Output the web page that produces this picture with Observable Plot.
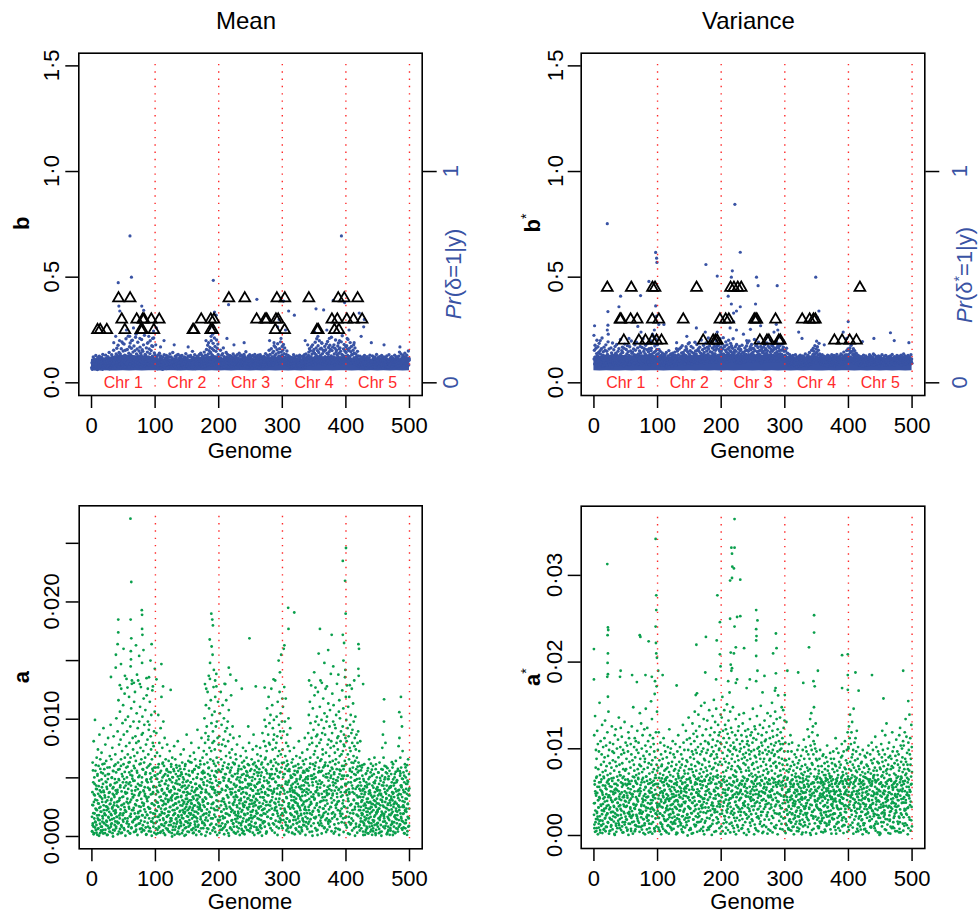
<!DOCTYPE html>
<html><head><meta charset="utf-8">
<script src="https://cdn.jsdelivr.net/npm/d3@7"></script>
<script src="https://cdn.jsdelivr.net/npm/@observablehq/plot@0.6"></script>
<style>
body{margin:0;background:#fff}
#root{position:relative;width:978px;height:915px;overflow:hidden;font-family:"Liberation Sans",Arial,Helvetica,sans-serif}
</style>
</head><body><div id="root"></div>
<script>
// ---------------- DATA ----------------
const xTicks = [0, 100, 200, 300, 400, 500];
const chrNames = ["Chr 1", "Chr 2", "Chr 3", "Chr 4", "Chr 5"];
const chrMid = [50, 150, 250, 350, 450];
const chrBounds = [100, 200, 300, 400, 500];

// dense core of the b / b* clouds: edges read every 10 genome units (0..500)
const coreX = [0,10,20,30,40,50,60,70,80,90,100,110,120,130,140,150,160,170,180,190,200,210,220,230,240,250,260,270,280,290,300,310,320,330,340,350,360,370,380,390,400,410,420,430,440,450,460,470,480,490,500];
const tlCoreTop = [0.112,0.114,0.118,0.122,0.128,0.130,0.130,0.128,0.126,0.124,0.118,0.112,0.110,0.110,0.110,0.110,0.112,0.116,0.122,0.126,0.118,0.115,0.112,0.110,0.110,0.110,0.112,0.115,0.118,0.122,0.118,0.112,0.110,0.112,0.115,0.120,0.122,0.124,0.124,0.122,0.120,0.115,0.112,0.110,0.110,0.110,0.110,0.110,0.112,0.112,0.112];
const trCoreTop = [0.125,0.126,0.128,0.128,0.130,0.128,0.128,0.130,0.132,0.130,0.125,0.122,0.120,0.122,0.124,0.126,0.128,0.130,0.130,0.132,0.134,0.134,0.132,0.130,0.130,0.132,0.130,0.130,0.132,0.130,0.124,0.120,0.118,0.118,0.122,0.124,0.120,0.118,0.118,0.120,0.122,0.120,0.118,0.118,0.118,0.118,0.118,0.118,0.118,0.118,0.118];
const coreBottom = [0.057,0.056,0.057,0.056,0.056,0.057,0.056,0.057,0.056,0.057,0.057,0.056,0.057,0.057,0.056,0.057,0.056,0.057,0.056,0.057,0.056,0.057,0.056,0.057,0.057,0.056,0.057,0.056,0.057,0.056,0.057,0.056,0.057,0.056,0.057,0.056,0.056,0.057,0.056,0.057,0.057,0.056,0.057,0.056,0.057,0.056,0.057,0.056,0.057,0.056,0.057];

// marker codes per chromosome (markers evenly spaced along each chromosome)
// top-left (mean, b): y = 0.05 + code*0.0018
const tlCodes = [
`12 25 08 31 19 40 14 22 35 10 28 09 17 44 21 13 33 26 07 38 15 30 11 24 42 18 27 09 36 20 23 14 39 29 08 47 16 32 12 26
34 19 10 27 45 22 13 37 18 29 11 41 24 16 30 52 09 25 35 14 20 33 13 46 28 17 39 11 23 58 31 15 27 40 12 36 21 48 19 63
26 44 17 71 33 14 52 29 38 21 48 12 35 62 24 80 19 41 30 56 16 39 74 27 45 13 58 33 88 22 42 25 60 18 37 95 29 50 14 67
34 77 21 46 28 63 11 39 84 25 53 17 40 69 31 22 57 36 92 19 27 48 15 61 35 79 24 43 18 56 38 21 66 30 50 13 44 86 26 59
19 55 33 72 24 41 97 29 47 16 45 28 64 37 12 53 31 78 22 40 30 61 18 49 83 26 38 57 20 70 24 42 68 15 36 90 28 51 33 46`,
`22 36 14 29 41 18 33 09 27 45 16 31 24 50 12 38 20 43 28 11 35 19 27 08 40 23 32 15 46 21 13 29 37 18 25 44 10 34 22 39
28 12 41 26 33 17 48 21 30 14 40 24 15 36 20 52 27 11 35 19 17 33 26 42 13 29 38 22 45 10 31 20 47 16 35 24 12 39 27 43
25 38 11 30 44 19 33 23 14 36 12 27 40 21 34 16 49 28 37 20 36 15 29 43 22 11 32 26 41 18 23 44 18 31 14 38 25 55 20 33
39 13 34 27 46 21 10 37 24 30 18 32 42 15 28 40 23 35 12 47 29 21 36 50 17 33 26 44 19 38 14 41 25 31 53 22 37 16 45 28
33 60 24 43 19 71 30 48 26 57 21 39 65 28 52 35 83 18 46 62 44 27 76 33 58 22 90 41 68 30 36 55 25 85 40 63 31 74 47 29`,
`27 40 15 33 22 58 19 36 11 45 32 18 49 25 64 30 14 41 28 37 20 35 28 52 16 39 24 47 33 12 38 24 13 30 44 21 35 17 42 26
15 33 40 22 29 48 11 36 25 31 43 20 27 35 14 39 30 23 46 18 26 37 19 31 50 24 15 42 28 34 12 45 30 21 36 27 40 18 33 47
35 22 41 16 28 54 25 37 13 30 24 31 14 43 38 19 29 46 22 36 41 17 33 26 12 35 44 21 30 27 19 39 28 47 23 31 16 38 25 42
30 13 36 22 45 27 34 11 40 29 46 25 18 33 29 41 20 37 24 15 21 34 42 27 16 38 31 49 19 35 37 28 15 44 32 23 40 26 58 20
25 47 33 19 36 62 28 41 23 51 33 20 55 38 70 26 44 31 66 24 48 35 27 59 22 75 39 30 52 43 29 62 41 24 80 37 53 28 45 68`,
`42 58 30 73 25 49 36 64 28 40 33 21 47 30 56 24 38 19 44 27 18 36 25 41 14 30 22 39 28 12 29 15 38 23 34 46 17 31 26 40
37 24 11 33 27 43 20 35 16 29 22 40 31 18 45 26 38 14 32 25 30 17 28 42 21 35 12 39 24 46 14 38 23 31 48 19 33 27 41 20
35 26 44 53 30 62 38 22 57 29 41 67 25 48 34 72 19 55 36 60 28 50 39 79 23 46 64 31 88 42 57 33 70 26 52 40 83 29 61 37
45 24 63 38 76 30 49 22 58 34 32 55 27 68 41 20 59 36 74 25 50 38 81 29 47 65 23 54 39 71 26 60 35 43 92 31 57 24 66 40
39 28 72 48 20 63 36 85 30 53 58 34 46 25 69 41 77 28 50 62 31 64 23 55 38 80 27 47 96 35 44 26 61 37 73 29 56 42 33 67`,
`52 36 70 28 61 44 86 33 57 40 29 63 41 78 35 54 24 68 46 31 47 30 58 25 72 38 50 22 64 35 33 48 26 41 20 37 55 29 43 18
24 35 16 30 42 21 33 27 13 38 31 19 28 40 15 26 36 22 44 17 20 37 24 12 33 28 41 18 30 25 35 14 29 38 22 45 16 31 27 11
26 32 19 43 28 13 36 24 39 21 13 40 27 18 34 25 47 20 29 33 38 22 31 26 15 41 23 35 17 28 21 30 44 16 37 24 12 33 26 40
29 17 25 39 31 20 36 14 43 27 34 27 13 30 22 46 28 19 35 23 18 39 33 24 41 15 30 37 21 32 25 31 20 45 27 35 18 40 26 14
40 23 36 29 16 32 42 24 53 30 19 34 27 48 33 21 38 28 15 44 31 26 41 17 36 50 23 33 27 39 23 45 30 35 20 28 56 19 37 32`
];
// top-right (variance, b*): y = 0.05 + code*0.0018
const trCodes = [
`35 58 22 71 40 28 63 17 49 84 26 44 67 31 52 19 76 38 23 57 48 21 39 62 28 90 33 45 16 54 30 66 25 43 19 58 37 72 24 41
55 18 47 33 80 27 40 61 22 36 20 42 29 64 35 51 13 46 77 30 39 26 59 21 44 32 68 25 50 18 47 73 30 38 24 55 41 19 62 34
23 45 36 86 28 49 20 57 31 66 52 29 41 17 63 35 74 26 43 38 33 60 24 48 31 70 22 54 37 19 44 21 67 35 27 56 40 82 29 50
28 53 38 20 61 33 46 24 72 36 58 31 45 79 25 42 19 64 34 48 22 47 30 56 39 68 27 51 20 43 36 65 24 41 88 30 55 37 62 26
49 28 71 33 45 22 59 40 76 31 27 54 38 62 20 47 35 83 29 57 63 35 48 26 78 42 31 94 52 38 40 69 29 55 36 87 46 60 33 72`,
`37 24 49 31 60 22 42 28 55 19 26 44 33 18 51 29 40 23 36 47 41 20 35 46 27 38 15 52 30 24 18 32 43 25 39 57 21 34 45 28
33 48 22 37 16 42 29 50 26 39 45 27 38 21 53 31 44 19 36 62 24 40 56 33 28 46 35 22 61 30 38 29 43 65 24 51 37 70 27 45
52 34 26 47 39 22 58 33 44 67 30 61 41 28 54 36 75 25 49 38 46 23 57 37 42 68 30 53 21 40 35 64 28 50 33 45 26 79 38 56
27 48 39 73 24 58 42 31 62 36 55 32 66 41 28 50 37 85 26 44 40 59 30 47 71 35 52 24 63 38 33 45 77 29 56 40 66 31 48 90
61 37 43 69 26 54 35 81 42 30 28 52 64 38 47 74 33 59 45 68 49 36 58 27 83 41 63 32 70 44 37 72 45 60 31 55 88 39 66 50`,
`56 38 74 45 62 30 91 48 35 67 42 69 33 58 80 40 53 27 72 46 61 35 50 84 39 65 31 57 44 76 38 54 70 29 47 63 36 88 41 52
49 31 58 43 67 25 55 39 73 34 27 46 35 62 30 51 41 68 24 57 44 60 32 48 37 71 28 53 40 35 33 52 45 26 64 39 57 30 47 69
58 36 77 42 31 55 46 82 35 61 40 67 29 59 48 73 37 50 63 32 53 28 62 45 86 34 57 41 70 38 36 71 44 54 30 65 48 79 33 56
47 39 58 33 68 42 25 61 37 52 30 55 41 66 36 49 72 28 58 44 62 34 50 77 40 57 31 69 45 36 43 65 29 53 38 84 47 60 32 71
55 37 68 44 59 30 76 41 63 50 38 62 46 81 35 54 67 29 73 48 64 42 57 33 70 49 92 39 58 45 47 74 36 60 43 66 31 55 78 40`,
`45 30 56 24 41 63 28 37 50 33 26 39 20 34 47 18 31 43 25 36 37 22 41 15 29 44 33 19 38 27 19 35 28 46 23 32 14 40 26 31
33 24 38 21 42 17 35 28 45 22 28 40 16 31 37 25 43 20 34 30 41 19 33 26 48 22 36 29 15 39 24 36 45 18 30 40 27 52 33 21
35 29 22 41 58 26 38 31 47 63 27 55 44 33 70 38 49 25 61 40 52 34 67 29 45 58 36 76 31 48 38 26 43 35 22 39 30 46 27 33
20 37 29 42 25 34 18 40 31 26 34 23 38 16 45 28 36 21 43 30 27 41 32 24 37 19 33 46 26 38 39 22 35 30 44 27 17 36 29 41
25 38 28 47 21 34 40 23 36 31 33 20 43 26 39 30 48 24 32 45 28 36 22 41 35 53 27 38 44 25 40 31 46 29 57 33 42 36 61 30`,
`47 33 58 28 64 40 52 36 71 30 38 55 27 46 34 62 25 49 41 57 31 44 36 23 50 29 40 33 26 45 25 37 20 33 42 27 35 18 39 30
34 22 41 28 16 36 30 45 24 32 21 39 27 35 43 19 31 26 38 28 36 25 18 40 29 34 46 22 30 37 28 42 33 24 37 20 39 31 48 25
19 31 45 27 35 23 32 41 26 36 33 26 38 21 43 30 17 36 29 40 40 29 24 37 31 46 27 35 22 33 24 36 30 42 19 34 28 44 32 27
31 20 39 26 35 23 41 30 37 18 37 43 28 33 25 38 21 47 29 34 22 30 36 19 41 27 33 25 39 31 35 27 44 31 23 37 29 40 26 42
28 39 24 35 30 45 20 33 38 27 41 26 32 48 27 36 31 22 43 30 23 34 38 29 40 25 35 44 28 37 30 40 27 36 21 33 46 29 35 24`
];
// bottom-left (mean, a): spread layer y = code*0.00014, dense low layer y = code*0.000064
const blCodes = [
`12 03 27 45 08 19 33 06 58 21 02 36 14 25 71 09 40 17 04 29 31 07 48 16 22 01 38 11 53 26 05 43 20 13 34 62 10 28 02 47
18 24 06 39 15 51 03 30 23 09 44 11 32 04 66 19 27 08 41 14 25 02 37 56 13 21 07 46 33 16 09 29 18 42 01 35 60 12 24 05
38 15 03 27 49 10 31 20 68 06 22 47 13 08 36 17 54 02 26 40 04 30 61 19 11 43 24 07 35 14 50 16 28 05 39 72 12 33 21 09
27 64 08 45 18 83 35 03 56 22 41 11 76 30 14 59 02 47 90 19 06 38 52 24 69 13 33 80 09 44 62 20 35 04 87 48 16 27 71 31
15 55 42 96 08 36 64 23 11 50 73 29 06 45 18 85 39 57 02 33 21 67 48 12 31 78 05 40 93 26 37 09 60 24 53 16 70 43 10 82
49 34 14 88 28 61 03 46 19 57 07 75 40 22 51 11 66 32 95 15 58 25 12 70 37 44 08 79 27 54 18 91 31 47 05 62 36 13 73 41
63 04 52 28 84 20 45 68 09 30 26 48 77 15 39 56 01 34 86 23 42 13 59 33 70 06 50 24 65 97 11 68 29 82 17 44 35 61 03 53
74 36 20 47 09 89 26 57 40 14 30 55 08 64 42 19 76 12 49 37`,
`16 42 05 30 63 21 09 51 35 12 38 02 27 74 18 44 06 33 57 24 10 49 31 13 66 03 40 22 85 15 28 07 54 36 19 45 11 70 26 02
43 20 14 60 32 08 38 23 47 17 05 34 25 41 12 56 29 04 37 21 31 13 46 03 22 35 15 52 09 27 18 39 07 28 44 11 24 02 33 48
25 04 36 19 13 41 30 08 55 16 01 29 14 47 23 06 38 20 11 34 42 17 26 09 32 58 03 24 40 12 21 35 06 43 15 28 10 37 19 50
08 24 39 13 30 02 45 22 16 33 36 11 20 53 07 27 41 14 31 05 15 44 29 01 38 18 25 62 09 23 27 03 34 21 12 46 06 31 40 17
10 37 18 49 26 08 33 14 22 57 45 20 04 30 16 39 24 02 35 13 23 51 12 27 41 09 19 47 28 06 04 32 43 15 22 36 11 29 65 18
38 14 25 07 54 20 42 03 31 24 17 46 30 12 35 05 27 60 16 39 29 09 48 21 13 40 33 19 52 08 44 72 18 36 57 10 63 27 80 23
14 50 67 31 05 45 88 20 38 59 61 26 42 78 15 54 33 96 07 47 35 83 11 52 69 24 40 74 29 57 20 64 46 30 91 17 58 37 05 76
53 28 85 12 43 67 34 99 22 48 70 39 16 60 27 82 45 09 56 33`,
`26 61 40 12 75 33 04 52 88 19 47 15 68 29 56 08 41 80 23 36 11 59 34 72 21 45 93 06 38 64 55 28 14 49 83 31 17 66 42 09
30 70 24 58 02 44 77 35 13 51 18 39 62 05 48 27 33 86 15 42 37 53 10 29 67 20 45 08 60 24 06 32 21 44 15 38 02 27 50 13
25 47 09 31 19 56 24 11 36 03 40 14 28 05 43 22 34 61 17 30 12 36 49 23 08 41 15 29 04 45 33 02 20 54 27 11 38 18 46 24
19 42 13 35 06 30 52 21 09 37 48 26 04 39 23 14 44 32 67 10 07 31 57 18 36 25 03 40 22 15 29 13 41 09 47 20 34 11 28 53
16 44 24 62 12 38 06 31 45 21 35 08 30 19 43 26 55 14 04 39 22 50 11 37 28 02 46 33 17 26 41 18 33 06 54 24 13 49 37 10
05 39 27 45 16 63 31 20 08 42 30 14 58 36 22 71 09 47 26 55 48 67 19 40 03 52 34 78 15 29 12 44 62 25 85 33 57 07 69 38
56 21 37 74 11 46 28 90 41 17 35 80 24 53 66 08 43 59 27 71 62 29 47 16 38 95 20 54 33 45 18 57 73 40 26 61 14 82 49 31
44 09 36 68 52 23 88 39 11 64 27 75 50 13 60 42 31 70 19 84`,
`53 22 79 36 10 64 45 28 91 17 38 70 15 49 32 84 07 57 24 43 11 46 62 27 40 05 55 33 72 20 34 18 41 09 52 29 66 14 37 25
06 31 22 45 13 36 02 28 47 19 27 10 38 17 54 24 12 40 21 33 15 43 05 30 23 49 35 08 26 14 39 20 32 11 44 03 25 58 18 30
09 35 48 24 16 37 29 13 42 22 31 04 19 51 27 10 46 34 07 40 21 44 28 14 39 60 18 25 33 12 47 16 36 06 29 41 22 53 11 35
26 63 40 18 74 31 09 56 42 82 14 48 69 27 37 92 20 60 35 03 57 33 15 78 44 24 65 08 50 38 41 86 23 52 11 70 36 45 27 61
19 55 73 30 62 04 48 88 16 39 68 25 42 13 57 34 79 21 46 95 32 59 08 47 71 26 40 63 12 53 50 17 84 37 22 66 31 05 75 43
24 62 45 90 15 51 38 70 28 11 73 36 20 56 43 09 81 34 59 26 10 49 67 31 77 40 18 54 99 37 58 28 42 14 63 87 25 46 33 70
35 80 55 22 39 12 68 51 03 44 66 19 47 74 30 57 41 93 24 60 21 53 36 61 08 45 76 29 83 38 49 72 14 40 58 27 64 35 50 17
30 43 89 25 67 52 11 78 41 56 62 37 55 18 46 97 32 60 27 85`,
`44 71 28 58 92 37 15 66 50 23 79 33 61 12 47 85 26 54 40 68 19 52 74 36 08 63 45 90 31 57 65 27 42 81 14 49 70 22 38 55
34 60 18 46 73 29 53 06 41 62 25 48 35 13 57 39 20 64 31 45 40 16 52 29 07 43 33 58 24 11 18 31 05 26 42 13 22 37 09 28
03 24 35 16 08 29 44 12 20 01 27 10 19 38 04 33 15 06 30 21 13 40 02 23 17 09 35 26 11 47 32 06 28 14 21 03 39 18 25 08
20 15 37 01 31 24 10 43 05 16 09 33 22 12 48 07 27 19 34 02 41 18 04 29 14 36 23 08 30 15 06 25 39 11 20 02 32 17 45 10
28 12 19 34 07 26 13 41 03 22 37 54 14 24 62 09 31 48 18 70 11 29 43 05 36 21 57 15 39 26 23 08 31 17 02 28 12 35 20 06
04 35 16 25 10 40 01 22 30 13 30 19 07 38 23 14 33 09 27 42 15 26 44 03 18 31 06 24 12 36 38 02 21 29 11 46 17 05 33 20
08 34 13 40 25 03 28 19 55 10 26 16 60 22 07 37 48 14 31 85 42 11 30 05 67 24 18 52 35 09 19 39 14 27 02 33 21 08 44 16
05 23 36 10 29 15 40 26 01 32 34 12 20 47 06 28 11 38 17 25`
];
const blLow = [
`07 42 15 88 31 03 56 24 70 12 49 19 95 36 05 63 28 81 10 44 22 67 01 38 54 17 90 33 08 59 76 13 46 27 84 04 61 35 18 97
29 52 09 73 40 21 66 02 48 14 83 37 25 58 11 92 43 06 69 30 16 50 78 23 39 64 00 87 34 55 45 08 71 20 96 32 13 57 41 26
62 03 89 47 18 75 28 51 10 68 36 94 15 60 05 42 80 22 53 31 11 65 39 86 24 01 57 33 72 46 58 20 93 07 44 70 16 37 99 27
04 82 30 49 12 61 35 77 19 52 74 38 06 55 91 23 43 14 66 09 26 48 85 02 63 31 79 17 40 57 68 10 34 97 21 50 06 72 45 28
15 89 41 60 08 36 54 25 83 12 53 03 76 29 47 18 65 39 94 07 37 62 11 84 32 56 20 73 01 44 90 24 59 13 67 42 05 81 30 48`,
`18 56 03 77 34 61 09 45 92 26 40 12 68 29 85 05 53 37 16 74 63 31 97 08 47 22 81 14 58 36 02 70 43 19 55 88 27 64 10 49
33 86 15 60 06 39 75 24 51 93 21 48 00 79 35 13 66 42 87 30 57 09 44 71 23 95 17 52 04 38 80 28 62 11 46 03 69 34 90 19
14 54 83 25 41 67 08 59 32 76 46 01 37 94 20 50 12 73 43 27 65 35 18 57 82 06 31 48 15 99 29 72 44 09 61 24 87 38 53 11
05 41 89 33 16 70 26 55 02 64 78 20 50 13 45 92 36 07 67 39 42 96 23 58 03 34 76 18 49 84 11 47 69 30 85 15 52 01 62 25
59 06 36 74 21 44 10 91 28 56 32 81 04 53 66 38 17 43 71 08 24 63 45 12 97 29 58 35 06 79 87 16 55 40 02 68 22 47 89 14`,
`38 05 71 22 59 14 86 33 47 09 62 27 94 11 50 36 03 78 25 43 16 83 40 67 08 55 30 19 91 52 74 01 45 28 63 12 88 37 56 21
09 58 35 80 17 42 06 69 31 97 49 23 66 04 53 76 13 39 84 27 33 90 18 61 44 02 72 26 48 15 57 10 82 35 20 64 41 07 93 30
03 46 29 75 12 58 87 22 38 65 81 36 51 08 95 24 43 16 70 11 25 69 14 48 33 79 05 61 40 54 44 02 88 27 66 18 50 34 12 92
70 31 57 09 39 85 23 45 76 06 15 63 40 96 28 01 67 52 19 36 52 20 74 37 13 59 30 89 04 46 06 84 26 55 71 42 17 62 35 78
67 41 11 99 24 48 83 08 57 29 29 77 60 16 45 05 38 73 21 50 90 13 34 64 02 80 27 46 11 68 42 56 19 86 37 22 65 14 98 31`,
`11 64 28 83 46 02 57 35 90 19 73 32 08 51 24 69 14 96 40 06 44 87 21 60 37 12 78 29 53 65 05 39 70 16 93 48 26 61 03 82
58 22 45 09 74 33 18 87 41 55 27 91 13 66 38 04 50 79 30 12 63 07 54 24 85 43 20 68 15 36 36 76 02 47 19 59 88 31 10 71
80 17 62 35 50 06 42 97 23 46 14 53 29 81 01 68 34 56 77 25 49 38 94 11 60 26 73 08 44 62 02 70 18 57 33 87 15 39 65 21
86 25 47 04 72 14 52 28 92 37 31 60 12 95 41 22 79 06 48 58 55 09 66 30 17 84 36 63 13 99 20 78 39 51 07 45 24 90 57 32
68 04 83 16 61 29 71 11 38 75 43 57 23 74 35 10 62 47 02 89 09 34 88 27 53 66 19 81 30 44 77 48 06 40 94 18 59 25 68 15`,
`26 70 12 55 38 81 04 47 63 19 59 03 90 31 16 72 43 24 86 08 35 64 21 98 49 11 57 36 01 75 82 17 44 29 66 05 93 52 27 40
13 53 77 08 35 61 20 88 46 31 48 95 30 63 02 41 74 15 56 22 67 06 38 84 24 50 11 69 33 91 04 45 60 18 79 37 58 26 97 09
39 89 14 52 43 07 65 83 21 54 71 28 47 02 96 32 16 44 61 35 18 62 85 37 10 57 25 78 06 49 55 01 33 68 46 89 41 13 72 27
30 76 20 59 14 38 93 51 03 84 91 42 07 24 80 64 29 66 45 11 08 67 53 36 99 17 48 02 76 58 43 19 71 45 28 05 86 34 60 23
75 33 10 90 51 40 13 62 39 87 16 84 56 26 68 21 77 09 47 30 62 12 39 81 04 59 34 92 18 70 37 50 95 07 43 73 25 55 14 64`
];
// bottom-right (variance, a*): spread layer y = code*0.00017, dense low layer y = code*0.00007
const brCodes = [
`14 68 05 37 22 81 30 09 46 58 27 03 52 40 16 71 33 11 62 24 45 19 08 57 36 26 90 13 41 02 31 64 21 48 07 38 55 17 75 29
10 43 34 60 25 04 50 39 18 66 53 23 78 12 44 32 06 61 28 47 20 36 15 70 41 09 54 26 84 35 38 58 27 03 49 63 19 42 11 30
06 24 46 33 74 16 37 57 23 51 62 13 39 20 56 44 01 31 68 15 29 50 72 08 35 25 47 14 59 40 17 34 22 65 10 53 30 80 07 43
48 05 41 28 60 18 73 36 24 55 12 67 33 49 02 39 26 58 45 21 40 26 56 15 77 30 09 44 35 63 23 45 11 52 34 20 61 27 04 38
57 32 70 08 42 66 16 50 29 13 35 19 46 62 25 03 55 37 74 28 09 51 28 40 14 87 33 21 48 60 44 30 66 18 53 37 07 64 26 41
21 58 13 35 71 24 45 10 39 56 63 06 42 27 48 15 83 32 52 17 30 47 76 20 36 59 04 43 25 68 16 39 24 54 11 45 31 72 07 50
52 28 61 33 86 19 40 26 57 12 37 73 14 46 22 64 35 02 49 30 08 42 55 29 68 38 18 60 24 91 48 22 36 79 13 51 43 27 66 34
26 62 45 17 57 05 96 39 31 53 41 15 70 35 28 48 22 84 44 19`,
`33 58 12 46 25 70 04 39 51 20 15 42 29 63 37 08 55 23 47 30 48 06 36 19 52 27 41 13 66 34 22 61 44 31 10 38 57 24 03 45
39 17 28 53 35 20 46 11 60 27 07 49 34 14 43 72 25 37 18 56 41 25 59 30 05 47 33 21 50 12 26 64 16 40 28 55 09 44 35 23
53 31 45 08 62 19 38 27 48 02 18 36 24 57 14 42 30 68 21 39 44 11 50 33 26 60 17 46 07 32 29 55 20 39 48 13 35 52 25 75
06 40 63 27 17 44 58 30 42 22 36 23 47 71 32 09 51 38 65 14 50 34 12 42 58 26 80 19 45 31 24 66 39 18 53 37 04 62 28 48
45 15 57 33 76 22 43 55 11 69 31 52 26 64 40 84 20 47 36 58 13 71 44 29 56 35 67 09 50 38 60 27 82 39 18 49 30 74 42 23
37 55 16 62 45 88 26 40 57 11 48 21 68 34 03 59 43 79 25 52 25 90 37 51 64 19 46 30 72 40 56 33 44 12 78 41 58 24 63 35
19 62 50 85 29 47 06 68 39 54 42 28 73 36 55 14 60 45 22 81 65 38 20 57 46 92 31 52 70 17 30 77 49 25 61 40 86 35 55 44
53 16 64 41 32 75 48 23 68 58 27 59 36 70 50 21 63 82 40 34`,
`62 35 80 48 17 94 56 29 71 43 38 66 23 52 85 40 60 13 75 31 50 27 72 44 09 63 37 89 54 20 69 46 31 58 78 24 49 66 35 97
22 57 84 39 61 15 73 45 30 52 47 70 34 55 26 87 41 63 18 59 36 12 60 28 50 44 68 23 79 40 58 43 26 65 37 07 54 32 47 71
19 51 74 34 82 46 29 57 62 25 45 30 59 16 43 68 37 52 05 64 28 76 40 55 22 49 83 33 60 39 53 20 35 71 48 27 56 44 14 67
37 62 51 29 64 38 72 21 46 58 61 44 18 55 33 79 25 52 68 30 26 57 42 70 11 48 36 63 40 86 49 33 66 24 58 45 20 74 54 37
72 41 28 53 38 65 50 31 81 23 35 59 46 13 69 28 43 60 27 55 57 22 75 40 52 34 88 47 16 63 30 68 37 61 24 56 41 73 50 32
44 18 52 35 78 29 64 39 58 21 65 48 31 70 45 13 55 36 83 42 27 60 43 22 57 38 74 51 30 66 52 35 81 47 26 62 19 56 44 90
39 71 24 58 67 33 49 76 38 54 61 28 55 42 84 50 36 63 21 47 46 79 33 68 29 57 72 40 95 35 23 53 64 37 49 15 58 80 44 62
70 41 27 59 36 87 52 31 66 48 34 62 85 45 73 39 24 57 78 51`,
`40 22 63 35 08 51 29 77 44 17 26 48 14 39 57 31 05 43 20 62 52 30 45 11 36 24 68 33 47 09 18 57 27 41 63 15 38 50 22 34
44 06 35 29 48 20 55 12 40 31 23 42 16 53 27 37 03 46 30 58 35 13 49 24 40 61 19 33 51 08 10 39 28 45 17 32 54 21 42 26
47 25 36 02 58 29 41 14 37 65 29 52 18 43 33 07 48 26 60 20 38 14 57 31 22 46 35 72 11 44 55 33 24 67 40 18 52 30 45 79
21 61 42 35 83 27 58 49 16 70 48 36 74 13 55 64 29 87 40 33 62 24 45 59 31 76 38 52 20 57 30 51 19 40 68 36 25 47 12 42
44 06 33 52 27 39 58 22 36 15 17 38 26 47 10 31 43 28 54 34 36 55 12 29 41 20 35 49 04 45 25 41 37 16 53 30 08 38 27 61
50 19 44 32 24 47 36 13 42 29 09 34 27 56 39 14 30 52 21 37 40 26 49 20 33 45 11 38 57 23 31 52 15 43 28 06 48 35 25 66
47 23 38 30 59 37 19 44 12 33 18 41 56 09 35 27 50 31 46 24 36 30 22 48 14 53 39 26 62 40 54 12 43 35 25 41 07 57 33 20
28 46 33 64 38 18 45 30 51 37 42 31 58 24 49 35 70 40 27 60`,
`59 33 74 45 21 66 38 82 50 27 36 62 44 17 70 53 29 77 41 55 48 25 58 35 86 30 46 19 63 40 22 51 37 66 13 44 57 28 39 71
43 18 30 52 26 60 08 47 35 24 31 45 13 38 55 21 41 33 04 49 16 36 50 27 11 43 29 58 22 37 40 07 32 46 35 18 54 25 42 14
26 53 21 39 03 48 30 12 56 33 47 15 43 28 61 24 37 45 19 31 10 38 55 20 34 42 06 51 27 63 35 24 17 49 30 58 22 39 44 13
52 41 28 05 46 33 67 18 36 25 21 60 37 44 14 29 50 41 08 57 38 12 49 31 55 23 35 02 46 30 27 45 19 36 62 40 15 53 33 71
50 34 58 22 43 09 47 28 39 17 14 55 30 68 25 51 36 44 20 76 42 26 45 11 37 59 24 48 32 53 33 63 20 41 29 16 54 38 06 45
19 37 52 28 47 34 70 23 57 31 46 09 35 60 22 42 13 49 36 27 28 54 41 17 33 65 26 39 51 03 57 31 24 48 40 20 55 30 44 68
12 46 36 73 27 38 61 15 50 34 39 22 59 30 53 43 08 64 25 48 61 35 26 45 18 70 37 52 41 79 24 50 42 67 33 14 56 29 48 36
45 19 63 38 58 27 44 82 31 55 30 66 48 23 52 40 75 35 60 43`
];
const brLow = [
`53 18 84 06 41 69 27 95 12 37 70 31 02 58 46 13 80 24 61 09 25 88 49 16 73 35 04 67 52 19 97 40 11 63 28 82 07 45 33 76
14 57 36 90 21 50 66 03 43 29 81 08 62 38 17 94 26 55 10 72 39 68 23 47 85 01 59 30 77 16 06 44 75 12 54 33 91 20 48 64
60 27 50 99 34 09 41 71 15 86 22 83 05 39 66 48 18 57 92 31 47 13 70 26 08 62 37 85 01 54 89 35 58 19 44 76 11 29 68 40
32 64 03 81 52 23 96 45 07 17 10 49 87 34 15 60 28 73 56 93 75 21 42 06 69 38 83 14 30 51 36 92 16 55 27 04 65 49 88 20
02 58 79 41 97 31 10 63 24 45 64 25 33 74 12 86 52 06 39 78 19 71 46 03 58 22 43 90 67 11 84 07 61 28 36 95 15 53 34 49`,
`40 85 13 66 29 52 07 78 36 21 59 02 47 94 18 33 70 11 63 88 27 74 38 08 55 91 24 45 05 61 96 16 60 42 81 03 57 30 76 14
35 50 22 89 09 68 43 19 52 37 11 79 64 31 47 25 86 58 02 72 83 28 04 56 15 98 34 67 41 23 48 63 90 20 73 10 51 06 87 32
05 39 55 77 26 44 13 80 29 65 71 17 82 35 00 62 48 24 93 09 30 58 45 12 87 37 69 03 54 76 62 04 26 99 40 18 57 84 15 43
17 93 71 51 06 76 30 36 68 22 56 32 08 65 84 23 49 11 78 45 89 46 60 14 38 55 02 92 21 67 24 67 37 81 53 09 74 40 59 13
76 10 91 28 63 41 86 16 33 50 01 54 19 44 25 97 61 73 06 38 43 85 66 07 79 30 20 48 95 27 68 22 52 88 12 47 35 57 03 81`,
`15 63 36 91 07 48 76 20 54 32 88 26 70 03 59 13 41 83 38 67 44 09 52 78 30 95 19 61 05 47 61 83 21 40 74 16 66 34 89 12
06 37 97 55 24 80 02 50 71 29 92 47 14 68 39 08 58 25 43 86 33 75 62 11 84 45 27 90 17 53 50 04 38 81 56 22 73 35 64 01
78 28 93 46 10 64 31 06 99 40 21 69 16 57 35 89 48 76 24 59 67 42 85 02 74 18 53 12 81 36 09 55 30 96 43 62 07 44 28 72
86 19 48 23 65 33 91 58 15 04 39 71 06 60 17 80 26 69 47 94 57 14 79 34 52 03 38 85 10 63 26 91 44 72 08 66 51 20 76 32
74 05 59 29 87 41 14 93 37 48 12 62 83 17 36 57 70 02 55 88 98 35 24 68 49 11 82 45 31 19 45 77 10 53 90 28 64 39 66 07`,
`29 66 04 81 43 17 58 92 35 72 55 10 47 24 76 38 09 63 85 21 08 91 35 60 14 49 80 27 02 57 70 33 52 19 96 64 23 41 75 13
46 84 07 68 31 11 55 88 36 60 18 40 73 02 59 26 94 15 48 79 83 22 61 45 37 71 05 53 30 97 37 58 14 90 25 82 46 19 67 04
62 01 76 33 50 09 69 39 86 28 11 87 42 65 20 56 31 74 03 51 94 26 57 15 78 44 12 61 42 23 43 69 20 86 06 33 89 28 57 66
05 48 79 38 63 21 50 07 95 34 77 16 31 54 92 47 74 40 18 82 24 98 64 10 41 60 03 85 29 52 60 35 45 73 27 14 58 36 71 09
87 03 19 49 81 95 22 66 12 43 32 75 56 08 37 68 44 90 53 25 15 52 89 61 04 30 79 17 39 70 50 27 38 23 67 86 06 48 93 14`,
`72 09 45 84 30 56 17 63 41 95 34 67 21 13 78 03 50 88 26 59 81 40 92 55 06 37 73 11 64 18 07 53 28 69 44 90 15 47 32 86
58 25 76 39 02 61 83 20 52 10 20 96 11 48 71 35 06 79 43 67 93 38 60 04 57 24 87 31 14 50 45 13 82 27 89 52 40 65 98 36
16 70 35 91 19 08 62 23 56 77 68 42 05 58 33 74 46 01 85 29 03 86 51 22 64 15 99 38 70 47 49 31 74 37 10 81 27 55 09 62
85 57 18 66 46 04 71 92 33 24 26 03 93 40 60 53 12 44 79 14 61 79 29 12 87 36 48 07 52 90 38 47 64 84 23 68 19 58 31 05
11 22 43 75 05 97 60 34 83 54 77 89 08 30 54 16 41 73 20 42 54 36 67 17 95 45 02 66 12 80 30 61 26 50 72 08 84 25 47 15`
];

// scattered high values [genome, value]
const tlHigh = [[42,0.474],[60.5,0.695],[62.8,0.50],[43,0.363],[44.5,0.34],[38,0.22],[44,0.20],[49.5,0.187],[60,0.22],[63,0.20],[79,0.363],[82,0.343],[81,0.324],[76,0.21],[88,0.187],[96,0.21],[97.5,0.245],[101,0.18],[114,0.20],[108.5,0.17],[102,0.26],[55,0.25],[70,0.23],[35,0.19],[66,0.26],[90,0.22],
[152,0.17],[184,0.19],[190.5,0.23],[193.5,0.335],[196,0.32],[192,0.266],[188,0.22],[191.5,0.485],[186,0.26],[180,0.2],[130,0.18],
[215.5,0.37],[260,0.395],[287,0.19],[292.6,0.265],[302,0.387],[310,0.34],[319,0.32],[298,0.21],[213,0.21],[224,0.18],[240,0.19],[280,0.2],[305,0.25],[295,0.3],
[353,0.35],[365,0.345],[336,0.2],[340,0.18],[351,0.24],[356,0.22],[362,0.19],[380,0.39],[374,0.21],[390,0.2],[370,0.25],[393,0.695],
[402,0.21],[405,0.25],[421,0.33],[429,0.30],[428,0.265],[424,0.22],[440,0.19],[485,0.17],[460,0.18],[398,0.38],[413,0.19]];
const trHigh = [[21,0.753],[221.5,0.845],[230,0.618],[176,0.56],[97,0.617],[98.5,0.59],[99,0.57],[193.8,0.505],[217.5,0.53],[216,0.50],[255.5,0.50],[258,0.46],[288,0.46],[348.6,0.50],[86.4,0.48],[73.3,0.413],[41.9,0.41],[39.3,0.36],[22,0.337],[1,0.27],[0,0.225],[22,0.273],[21,0.25],[22.5,0.23],[97,0.364],[98.5,0.316],[102,0.276],[110,0.276],[95,0.25],[92,0.23],[69,0.267],[74,0.24],[211,0.41],[216,0.373],[219.5,0.33],[224,0.34],[230,0.36],[214,0.26],[219.5,0.29],[224,0.25],[235,0.23],[254,0.373],[246,0.253],[262,0.27],[286.6,0.277],[289,0.25],[161,0.26],[175,0.24],[146,0.22],[150,0.19],[193.8,0.24],[283,0.24],[298,0.2],[353.6,0.34],[351,0.31],[321.8,0.24],[327,0.21],[350,0.197],[362,0.18],[391.8,0.24],[399.6,0.29],[397,0.21],[440,0.21],[466,0.237],[472,0.2],[495,0.19],[422,0.195],[10,0.2],[55,0.21],[130,0.19],[240,0.2],[270,0.21]];
const blHigh = [[60.7,0.0271],[62,0.0217],[78.6,0.0193],[79,0.0189],[41.5,0.0185],[61,0.0185],[41.5,0.0174],[79,0.0177],[79.5,0.0172],[62,0.0169],[69.4,0.0163],[94,0.0164],[40.5,0.0164],[37.8,0.0155],[49.8,0.016],[61.3,0.0158],[61.5,0.0151],[74.4,0.0154],[81.2,0.0159],[92.2,0.015],[37.5,0.0144],[45.8,0.0147],[61,0.0145],[79,0.0148],[99,0.0143],[109.4,0.0147],[101.6,0.0134],[30,0.0136],[63,0.0133],[52,0.0137],[71,0.0138],[75.5,0.0130],[86,0.0135],[96,0.0128],[56,0.0127],[66,0.0131],[88,0.0126],[44,0.0129],
[188,0.019],[189.5,0.0185],[190.5,0.018],[185.5,0.0168],[188.5,0.0162],[190,0.0155],[186,0.0148],[192,0.0142],[184,0.0137],[178,0.0130],[194,0.0133],[196,0.0128],[180,0.0126],[112,0.0128],[124,0.0125],
[215.5,0.0144],[218,0.0138],[227,0.0133],[210,0.0130],[248,0.0169],[294,0.015],[298,0.0155],[302,0.016],[309,0.0195],[318.6,0.0191],[309.5,0.0177],[303,0.0163],[296,0.0140],[286,0.0134],[258,0.0128],[236,0.0126],[272,0.0127],
[359,0.0177],[377.5,0.0172],[357,0.0156],[372,0.0159],[395,0.0172],[400,0.0246],[398.6,0.0218],[395,0.0235],[399.5,0.019],[397,0.0165],[396,0.015],[380,0.0145],[366,0.0148],[350,0.0140],[388,0.0138],[342,0.0133],[362,0.0131],[399,0.0142],[352,0.0127],[370,0.0128],
[419.6,0.0164],[420.5,0.016],[419.5,0.0143],[420,0.0137],[427,0.0130],[413,0.0133],[406,0.0129],[460,0.0117],[484,0.0106],[487,0.0102]];
const brHigh = [[0,0.0215],[0,0.018],[21,0.0313],[22,0.024],[22.5,0.0237],[21.5,0.0231],[22,0.021],[21.5,0.0199],[22,0.0186],[21,0.0183],[22,0.016],[42,0.019],[41,0.0183],[60,0.0185],[67.5,0.0177],[72,0.0231],[73,0.0229],[81,0.0185],[86,0.0224],[91,0.0183],[97,0.0342],[98,0.0277],[98,0.026],[97,0.0241],[97.5,0.0222],[98,0.021],[99,0.0205],[96,0.0178],[98.5,0.0172],[108,0.0185],[101,0.019],[130,0.0173],[161,0.022],[176,0.0229],[162,0.0164],[175,0.0188],[194,0.0277],[198,0.0246],[198,0.0209],[193,0.0225],[192,0.018],[199,0.0195],[221,0.0365],[216,0.0332],[221,0.0332],[217,0.0325],[217.5,0.031],[220,0.0308],[214,0.0294],[217,0.0297],[230,0.0295],[214,0.025],[225,0.0252],[230,0.0253],[221,0.0241],[215,0.0211],[220,0.021],[223,0.0217],[215,0.0197],[217,0.0193],[216,0.019],[225,0.018],[211,0.0178],[223,0.0176],[236,0.0216],[255,0.026],[257,0.0248],[255,0.0238],[255.5,0.023],[255,0.0225],[255,0.0207],[257,0.019],[255,0.0178],[268,0.0184],[245,0.018],[286,0.0233],[287,0.0216],[281.6,0.021],[286,0.0187],[285.5,0.017],[284.5,0.0167],[304,0.019],[321,0.0188],[329,0.0176],[338,0.0217],[346,0.0254],[346,0.0234],[352,0.019],[345,0.0178],[347,0.0172],[390,0.0208],[399,0.0209],[399,0.0185],[399,0.0168],[390,0.017],[411,0.0188],[416,0.0167],[437,0.0185],[455,0.0158],[486,0.019],[494,0.0155],[160,0.0162],[240,0.0170],[265,0.0165],[300,0.0162]];

// posterior probability markers (triangles): genome positions per level
const tlTriLevels = [0.25, 0.30, 0.40];
const tlTriPos = [
  [9.4, 13.6, 24, 52.4, 77.5, 80, 98, 159.5, 161, 187.5, 190.5, 289, 303.6, 354.5, 356.5, 382, 389],
  [47.5, 71, 80.5, 82.5, 94, 106.5, 172.5, 187.5, 192.5, 259.6, 273, 275.5, 290, 293.5, 378, 386.5, 401.5, 412, 425.5],
  [42.5, 60.7, 216, 241, 291.5, 304, 341.8, 388, 397.5, 418.5]
];
const trTriLevels = [0.45, 0.30, 0.20];
const trTriPos = [
  [21, 58.7, 92, 96, 161.3, 214.7, 220, 226, 231.5, 418],
  [41, 42.5, 57.6, 68, 91.7, 102, 140.4, 198, 207, 212, 252, 254.5, 256, 285.4, 327.3, 339, 345, 348],
  [47, 70.7, 81, 91.7, 98.5, 106.3, 171.8, 187.5, 191, 193.8, 260.8, 272, 275, 290.6, 293, 378, 390, 402, 412.6]
];

const topTicks = [0, 0.5, 1, 1.5];
const topTickLabels = ["0·0", "0·5", "1·0", "1·5"];
const probTicks = [0, 1];
const probTickLabels = ["0", "1"];
const blTicks = [0, 0.005, 0.01, 0.015, 0.02, 0.025];
const blLabelTicks = [0, 0.01, 0.02];
const blTickLabels = ["0·000", "0·010", "0·020"];
const brTicks = [0, 0.01, 0.02, 0.03];
const brTickLabels = ["0·00", "0·01", "0·02", "0·03"];

// extents of the chromosome divider lines
const topDivider = [-0.02, 1.52];
const blDivider = [-0.0002, 0.0275];
const brDivider = [-0.0005, 0.0371];

// ---------------- DRAWING ----------------
const FONT = '"Liberation Sans", Arial, Helvetica, sans-serif';
const BLUE = "#3953a4", GREEN = "#0a9f4c", RED = "#ff2a2a";
const root = document.getElementById("root");

function decode(chrs, base, step) {
  const out = [];
  chrs.forEach((s, c) => {
    const codes = s.trim().split(/\s+/).map(Number);
    const n = codes.length;
    codes.forEach((v, i) => out.push({x: c * 100 + (i + 0.5) * 100 / n, y: base + v * step}));
  });
  return out;
}
const pairs = arr => arr.map(([x, y]) => ({x, y}));
const tri = (levels, pos) => levels.flatMap((l, k) => pos[k].map(x => ({x, y: l})));
const dividers = ext => chrBounds.map(x => ({x, y1: ext[0], y2: ext[1]}));
const core = top => coreX.map((x, i) => ({x, y1: coreBottom[i], y2: top[i]}));

function commonMarks(yTicks) {
  return [
    Plot.axisX({ticks: xTicks, tickSize: 13, tickPadding: 9, fontSize: 22, label: null, strokeWidth: 1.5, tickFormat: d => String(d)}),
    Plot.axisY({ticks: yTicks, anchor: "left", tickSize: 13, tickFormat: () => "", label: null, strokeWidth: 1.5}),
    Plot.frame({stroke: "black", strokeWidth: 1.6})
  ];
}

function panel(cfg) {
  const svg = Plot.plot({
    width: 489, height: cfg.h,
    marginLeft: cfg.mL, marginRight: cfg.mR, marginTop: cfg.mT, marginBottom: cfg.mB,
    x: {domain: [-20, 520]},
    y: {domain: cfg.yDomain},
    style: {fontFamily: FONT, fontSize: "22px", background: "transparent", overflow: "visible"},
    marks: cfg.marks
  });
  svg.style.position = "absolute";
  svg.style.left = cfg.left + "px";
  svg.style.top = cfg.top + "px";
  root.appendChild(svg);
  return {s: d3.select(svg), y: svg.scale("y")};
}

function txt(sel, x, y, size, str) {
  return sel.append("text").attr("x", x).attr("y", y).attr("text-anchor", "middle")
    .attr("font-size", size).attr("fill", "black").attr("font-family", FONT).text(str);
}
function rotLabel(sel, x, y, size, parts, fill = "black", weight = "normal") {
  const t = sel.append("text").attr("transform", `translate(${x},${y}) rotate(-90)`)
    .attr("text-anchor", "middle").attr("font-size", size).attr("fill", fill)
    .attr("font-weight", weight).attr("font-family", FONT);
  parts.forEach(p => {
    const s = t.append("tspan").text(p.s);
    if (p.italic) s.attr("font-style", "italic");
    if (p.dy) s.attr("dy", p.dy);
    if (p.size) s.attr("font-size", p.size);
    if (p.w) s.attr("font-weight", p.w);
  });
  return t;
}
// tick labels placed through the plot's own y scale (baseline x given)
function tickLabels(p, vals, labels, baseX, fill = "black") {
  vals.forEach((v, i) => rotLabel(p.s, baseX, p.y.apply(v), 22, [{s: labels[i]}], fill));
}

const chrText = chrMid.map((x, i) => ({x, y: 0, t: chrNames[i]}));
const divStyle = {stroke: RED, strokeWidth: 1.4, strokeDasharray: "1.4,5.9"};
const triStyle = {symbol: "triangle", r: 4, stroke: "black", strokeWidth: 1.8, fill: "none"};

// Top-left: Mean
{
  const p = panel({
    left: 0, top: 0, h: 460, mL: 78.3, mR: 67.3, mT: 52.7, mB: 65, yDomain: [-0.06, 1.56],
    marks: [
      Plot.areaY(core(tlCoreTop), {x: "x", y1: "y1", y2: "y2", fill: BLUE}),
      Plot.dot(decode(tlCodes, 0.05, 0.0018), {x: "x", y: "y", r: 1.7, fill: BLUE}),
      Plot.dot(pairs(tlHigh), {x: "x", y: "y", r: 1.6, fill: BLUE}),
      Plot.ruleX(dividers(topDivider), {x: "x", y1: "y1", y2: "y2", ...divStyle}),
      Plot.dot(tri(tlTriLevels, tlTriPos), {x: "x", y: "y", ...triStyle}),
      Plot.text(chrText, {x: "x", y: "y", text: "t", fill: RED, fontSize: "16px"}),
      Plot.axisY({ticks: probTicks, anchor: "right", tickSize: 14, tickFormat: () => "", label: null, strokeWidth: 1.5}),
      ...commonMarks(topTicks)
    ]
  });
  tickLabels(p, topTicks, topTickLabels, 59.3);
  tickLabels(p, probTicks, probTickLabels, 457.7, BLUE);
  txt(p.s, 246, 29.3, 24, "Mean");
  txt(p.s, 250, 458, 22, "Genome");
  rotLabel(p.s, 29.3, 223.3, 22, [{s: "b"}], "black", "bold");
  rotLabel(p.s, 460.5, 274, 22, [{s: "Pr", italic: true}, {s: "(δ=1|y)"}], BLUE);
}
// Top-right: Variance
{
  const p = panel({
    left: 489, top: 0, h: 460, mL: 91.7, mR: 53.7, mT: 52.7, mB: 65, yDomain: [-0.06, 1.56],
    marks: [
      Plot.areaY(core(trCoreTop), {x: "x", y1: "y1", y2: "y2", fill: BLUE}),
      Plot.dot(decode(trCodes, 0.05, 0.0018), {x: "x", y: "y", r: 1.7, fill: BLUE}),
      Plot.dot(pairs(trHigh), {x: "x", y: "y", r: 1.6, fill: BLUE}),
      Plot.ruleX(dividers(topDivider), {x: "x", y1: "y1", y2: "y2", ...divStyle}),
      Plot.dot(tri(trTriLevels, trTriPos), {x: "x", y: "y", ...triStyle}),
      Plot.text(chrText, {x: "x", y: "y", text: "t", fill: RED, fontSize: "16px"}),
      Plot.axisY({ticks: probTicks, anchor: "right", tickSize: 14, tickFormat: () => "", label: null, strokeWidth: 1.5}),
      ...commonMarks(topTicks)
    ]
  });
  tickLabels(p, topTicks, topTickLabels, 73.6);
  tickLabels(p, probTicks, probTickLabels, 477.7, BLUE);
  txt(p.s, 259.5, 29.3, 24, "Variance");
  txt(p.s, 263.5, 458, 22, "Genome");
  rotLabel(p.s, 51, 223, 22, [{s: "b"}, {s: "*", dy: -9, size: 14, w: "normal"}], "black", "bold");
  rotLabel(p.s, 483, 275, 22, [{s: "Pr", italic: true}, {s: "(δ"}, {s: "*", dy: -8, size: 14}, {s: "=1|y)", dy: 8}], BLUE);
}
// Bottom-left: a
{
  const p = panel({
    left: 0, top: 460, h: 455, mL: 78.7, mR: 67.3, mT: 45.3, mB: 66.7, yDomain: [-0.00105, 0.0282],
    marks: [
      Plot.dot(decode(blLow, 0, 0.000064), {x: "x", y: "y", r: 1.4, fill: GREEN}),
      Plot.dot(decode(blCodes, 0, 0.00014), {x: "x", y: "y", r: 1.4, fill: GREEN}),
      Plot.dot(pairs(blHigh), {x: "x", y: "y", r: 1.4, fill: GREEN}),
      Plot.ruleX(dividers(blDivider), {x: "x", y1: "y1", y2: "y2", ...divStyle}),
      ...commonMarks(blTicks)
    ]
  });
  tickLabels(p, blLabelTicks, blTickLabels, 59.3);
  txt(p.s, 250, 449, 22, "Genome");
  rotLabel(p.s, 29.3, 217, 22, [{s: "a"}], "black", "bold");
}
// Bottom-right: a*
{
  const p = panel({
    left: 489, top: 460, h: 455, mL: 91.7, mR: 53.7, mT: 45.7, mB: 67, yDomain: [-0.0015, 0.03798],
    marks: [
      Plot.dot(decode(brLow, 0, 0.00007), {x: "x", y: "y", r: 1.4, fill: GREEN}),
      Plot.dot(decode(brCodes, 0, 0.00017), {x: "x", y: "y", r: 1.4, fill: GREEN}),
      Plot.dot(pairs(brHigh), {x: "x", y: "y", r: 1.4, fill: GREEN}),
      Plot.ruleX(dividers(brDivider), {x: "x", y1: "y1", y2: "y2", ...divStyle}),
      ...commonMarks(brTicks)
    ]
  });
  tickLabels(p, brTicks, brTickLabels, 72.7);
  txt(p.s, 263.5, 449, 22, "Genome");
  rotLabel(p.s, 51, 217.2, 22, [{s: "a"}, {s: "*", dy: -9, size: 14, w: "normal"}], "black", "bold");
}
</script></body></html>
